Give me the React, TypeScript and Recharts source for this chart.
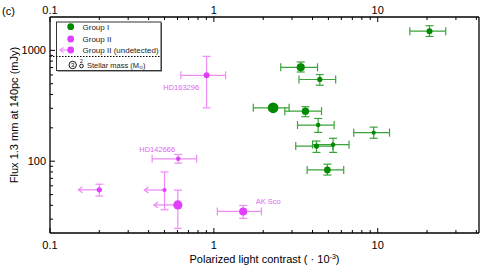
import React from 'react';
import { ScatterChart, Scatter, XAxis, YAxis, ErrorBar } from 'recharts';

// ---- Group I (detected) ----
const g1Contrast = [20.7, 3.39, 4.43, 2.3, 3.62, 4.33, 9.45, 4.23, 5.34, 4.93];
const g1ContrastLo = [15.7, 2.56, 3.31, 1.74, 2.71, 3.24, 7.14, 3.16, 4.0, 3.71];
const g1ContrastHi = [26.0, 4.29, 5.54, 2.88, 4.54, 5.42, 11.8, 5.32, 6.68, 6.2];
const g1Flux = [1490, 703, 546, 303, 283, 212, 181, 137, 141, 83.5];
const g1FluxLo = [1336, 638, 485, 292, 252, 182, 161, 120, 120, 75];
const g1FluxHi = [1667, 785, 605, 314, 310, 243, 203, 152, 161, 94];
const g1Mass = [2.6, 3.2, 2.4, 3.9, 3.0, 2.2, 2.1, 2.4, 2.2, 2.8];

// ---- Group II (detected) ----
const g2Names = ['HD163296', 'HD142666', 'AK Sco'];
const g2Contrast = [0.903, 0.606, 1.51];
const g2ContrastLo = [0.629, 0.42, 1.05];
const g2ContrastHi = [1.18, 0.785, 1.95];
const g2Flux = [596, 105, 35.2];
const g2FluxLo = [303, 96, 30.5];
const g2FluxHi = [883, 115, 39.9];
const g2Mass = [2.6, 2.2, 3.2];

// ---- Group II (undetected, upper limits) ----
const g2uContrast = [0.2, 0.5, 0.603];
const g2uFlux = [55.2, 55, 40.3];
const g2uFluxLo = [48.5, 36.5, 24.8];
const g2uFluxHi = [62, 80, 54.8];
const g2uMass = [2.4, 2.1, 3.5];

// ---- axes ----
const xDomain = [0.1, 41.5];
const yDomain = [22.5, 2000];
const xTicks = [0.1, 0.2, 0.3, 0.4, 0.5, 0.6, 0.7, 0.8, 0.9, 1, 2, 3, 4, 5, 6, 7, 8, 9, 10, 20, 30, 40];
const xMajor = [0.1, 1, 10];
const yTicks = [30, 40, 50, 60, 70, 80, 90, 100, 200, 300, 400, 500, 600, 700, 800, 900, 1000];
const yMajor = [100, 1000];

const GREEN = '#008a00';
const GREEN_ERR = '#3aa33a';
const MAG = '#e040fb';
const MAG_ERR = '#ee8cf8';
const MAG_TEXT = '#e066f0';
const FONT = '"Liberation Sans", Arial, Helvetica, sans-serif';

const radius = (m: number) => 1.8 * m - 1.7;

const g1Data = g1Contrast.map((x, i) => ({
  x,
  y: g1Flux[i],
  ex: [x - g1ContrastLo[i], g1ContrastHi[i] - x],
  ey: [g1Flux[i] - g1FluxLo[i], g1FluxHi[i] - g1Flux[i]],
  mass: g1Mass[i],
}));
const g2Data = g2Contrast.map((x, i) => ({
  x,
  y: g2Flux[i],
  ex: [x - g2ContrastLo[i], g2ContrastHi[i] - x],
  ey: [g2Flux[i] - g2FluxLo[i], g2FluxHi[i] - g2Flux[i]],
  mass: g2Mass[i],
  name: g2Names[i],
}));
const g2uData = g2uContrast.map((x, i) => ({
  x,
  y: g2uFlux[i],
  ey: [g2uFlux[i] - g2uFluxLo[i], g2uFluxHi[i] - g2uFlux[i]],
  mass: g2uMass[i],
}));

const labelPlacement: Record<string, { dx: number; dy: number; anchor: string }> = {
  HD163296: { dx: -7.5, dy: 14.5, anchor: 'end' },
  HD142666: { dx: -21, dy: -7, anchor: 'middle' },
  'AK Sco': { dx: 12.5, dy: -7.5, anchor: 'start' },
};

const GreenDot = (p: any) => <circle cx={p.cx} cy={p.cy} r={radius(p.payload.mass)} fill={GREEN} />;

const MagDot = (p: any) => {
  const lp = labelPlacement[p.payload.name];
  return (
    <g>
      <circle cx={p.cx} cy={p.cy} r={radius(p.payload.mass)} fill={MAG} />
      {lp && (
        <text x={p.cx + lp.dx} y={p.cy + lp.dy} textAnchor={lp.anchor as any} fontSize={7.5} fill={MAG_TEXT} fontFamily={FONT}>
          {p.payload.name}
        </text>
      )}
    </g>
  );
};

const UpperLimitDot = (p: any) => {
  const r = radius(p.payload.mass);
  const tip = p.cx - (17 + 1.5 * r);
  return (
    <g>
      <line x1={p.cx} y1={p.cy} x2={tip} y2={p.cy} stroke={MAG_ERR} strokeWidth={1.3} />
      <polyline points={`${tip + 4},${p.cy - 3} ${tip},${p.cy} ${tip + 4},${p.cy + 3}`} fill="none" stroke={MAG_ERR} strokeWidth={1.3} />
      <circle cx={p.cx} cy={p.cy} r={r} fill={MAG} />
    </g>
  );
};

const BottomTick = (p: any) => {
  const v = p.payload.value;
  const major = xMajor.includes(v);
  return (
    <g>
      <line x1={p.x} x2={p.x} y1={p.y} y2={p.y - (major ? 5 : 3)} stroke="#000" strokeWidth={1} />
      {major && (
        <text x={p.x} y={p.y + 16} textAnchor="middle" fontSize={11} fontFamily={FONT} fill="#000">
          {String(v)}
        </text>
      )}
    </g>
  );
};

const TopTick = (p: any) => {
  const v = p.payload.value;
  const major = xMajor.includes(v);
  return (
    <g>
      <line x1={p.x} x2={p.x} y1={p.y} y2={p.y + (major ? 5 : 3)} stroke="#000" strokeWidth={1} />
      {major && (
        <text x={p.x} y={p.y - 3.5} textAnchor="middle" fontSize={11} fontFamily={FONT} fill="#000">
          {String(v)}
        </text>
      )}
    </g>
  );
};

const LeftTick = (p: any) => {
  const v = p.payload.value;
  const major = yMajor.includes(v);
  return (
    <g>
      <line x1={p.x} x2={p.x + (major ? 5 : 3)} y1={p.y} y2={p.y} stroke="#000" strokeWidth={1} />
      {major && (
        <text x={p.x - 4} y={p.y + 4} textAnchor="end" fontSize={11} fontFamily={FONT} fill="#000">
          {String(v)}
        </text>
      )}
    </g>
  );
};

export default function App() {
  return (
    <div style={{ position: 'absolute', left: 0, top: 0, width: 491, height: 268, background: '#fff' }}>
      <ScatterChart width={491} height={268} margin={{ top: 0, right: 0, bottom: 0, left: 0 }}>
        <XAxis
          xAxisId="bottom"
          type="number"
          dataKey="x"
          scale="log"
          domain={xDomain}
          allowDataOverflow
          ticks={xTicks}
          interval={0}
          orientation="bottom"
          height={35}
          tickSize={0}
          tickMargin={0}
          tickLine={false}
          axisLine={{ stroke: '#000', strokeWidth: 1.3 }}
          tick={BottomTick}
        />
        <XAxis
          xAxisId="top"
          type="number"
          dataKey="x"
          scale="log"
          domain={xDomain}
          allowDataOverflow
          ticks={xTicks}
          interval={0}
          orientation="top"
          height={17}
          tickSize={0}
          tickMargin={0}
          tickLine={false}
          axisLine={{ stroke: '#000', strokeWidth: 1.3 }}
          tick={TopTick}
        />
        <YAxis
          yAxisId="left"
          type="number"
          dataKey="y"
          scale="log"
          domain={yDomain}
          allowDataOverflow
          ticks={yTicks}
          interval={0}
          orientation="left"
          width={50}
          tickSize={0}
          tickMargin={0}
          tickLine={false}
          axisLine={{ stroke: '#000', strokeWidth: 1.3 }}
          tick={LeftTick}
        />
        <YAxis
          yAxisId="right"
          type="number"
          dataKey="y"
          scale="log"
          domain={yDomain}
          allowDataOverflow
          orientation="right"
          width={12}
          tick={false}
          tickLine={false}
          axisLine={{ stroke: '#000', strokeWidth: 1.3 }}
        />
        <Scatter data={g1Data} xAxisId="bottom" yAxisId="left" fill={GREEN} shape={GreenDot} isAnimationActive={false}>
          <ErrorBar dataKey="ex" direction="x" width={4} stroke={GREEN_ERR} strokeWidth={1.2} />
          <ErrorBar dataKey="ey" direction="y" width={4} stroke={GREEN_ERR} strokeWidth={1.2} />
        </Scatter>
        <Scatter data={g2Data} xAxisId="bottom" yAxisId="left" fill={MAG} shape={MagDot} isAnimationActive={false}>
          <ErrorBar dataKey="ex" direction="x" width={4} stroke={MAG_ERR} strokeWidth={1.2} />
          <ErrorBar dataKey="ey" direction="y" width={4} stroke={MAG_ERR} strokeWidth={1.2} />
        </Scatter>
        <Scatter data={g2uData} xAxisId="bottom" yAxisId="left" fill={MAG} shape={UpperLimitDot} isAnimationActive={false}>
          <ErrorBar dataKey="ey" direction="y" width={4} stroke={MAG_ERR} strokeWidth={1.2} />
        </Scatter>
      </ScatterChart>
      <svg
        width={491}
        height={268}
        style={{ position: 'absolute', left: 0, top: 0, pointerEvents: 'none' }}
        fontFamily={FONT}
      >
        <text x={2} y={15} fontSize={11} fill="#000">(c)</text>
        <text x={264.5} y={263} fontSize={11} textAnchor="middle" fill="#000">
          Polarized light contrast ( · 10
          <tspan fontSize={7} dy={-4}>-3</tspan>
          <tspan dy={4}>)</tspan>
        </text>
        <text x={18} y={115} fontSize={11} textAnchor="middle" fill="#000" transform="rotate(-90 18 115)">
          Flux 1.3 mm at 140pc (mJy)
        </text>
        {/* legend */}
        <rect x={57.5} y={23} width={104.5} height={48.5} fill="#555" />
        <rect x={56.5} y={22} width={104.5} height={48.5} fill="#fff" stroke="#333" strokeWidth={1} />
        <circle cx={70.7} cy={26.7} r={3.4} fill={GREEN} />
        <text x={82.5} y={29.6} fontSize={8} fill="#222">Group I</text>
        <circle cx={70.7} cy={39} r={3.4} fill={MAG} />
        <text x={82.5} y={41.9} fontSize={8} fill="#222">Group II</text>
        <line x1={60} y1={50} x2={70} y2={50} stroke={MAG_ERR} strokeWidth={1.2} />
        <polyline points="63.5,47.5 60,50 63.5,52.5" fill="none" stroke={MAG_ERR} strokeWidth={1.2} />
        <circle cx={70.7} cy={50} r={3.4} fill={MAG} />
        <text x={82.5} y={52.9} fontSize={8} fill="#222">Group II (undetected)</text>
        <line x1={50} y1={56.5} x2={161} y2={56.5} stroke="#000" strokeWidth={1} strokeDasharray="1.5,1.5" />
        <circle cx={72.7} cy={65} r={3.7} fill="none" stroke="#000" strokeWidth={0.9} />
        <text x={72.7} y={67.3} fontSize={6} textAnchor="middle" fill="#000">3</text>
        <circle cx={81.5} cy={66} r={1.8} fill="none" stroke="#000" strokeWidth={0.9} />
        <text x={81.5} y={62.5} fontSize={5} textAnchor="middle" fill="#000">2</text>
        <text x={87} y={68} fontSize={7.5} fill="#222">
          Stellar mass (M<tspan fontSize={5} dy={1}>⊙</tspan><tspan dy={-1}>)</tspan>
        </text>
      </svg>
    </div>
  );
}
